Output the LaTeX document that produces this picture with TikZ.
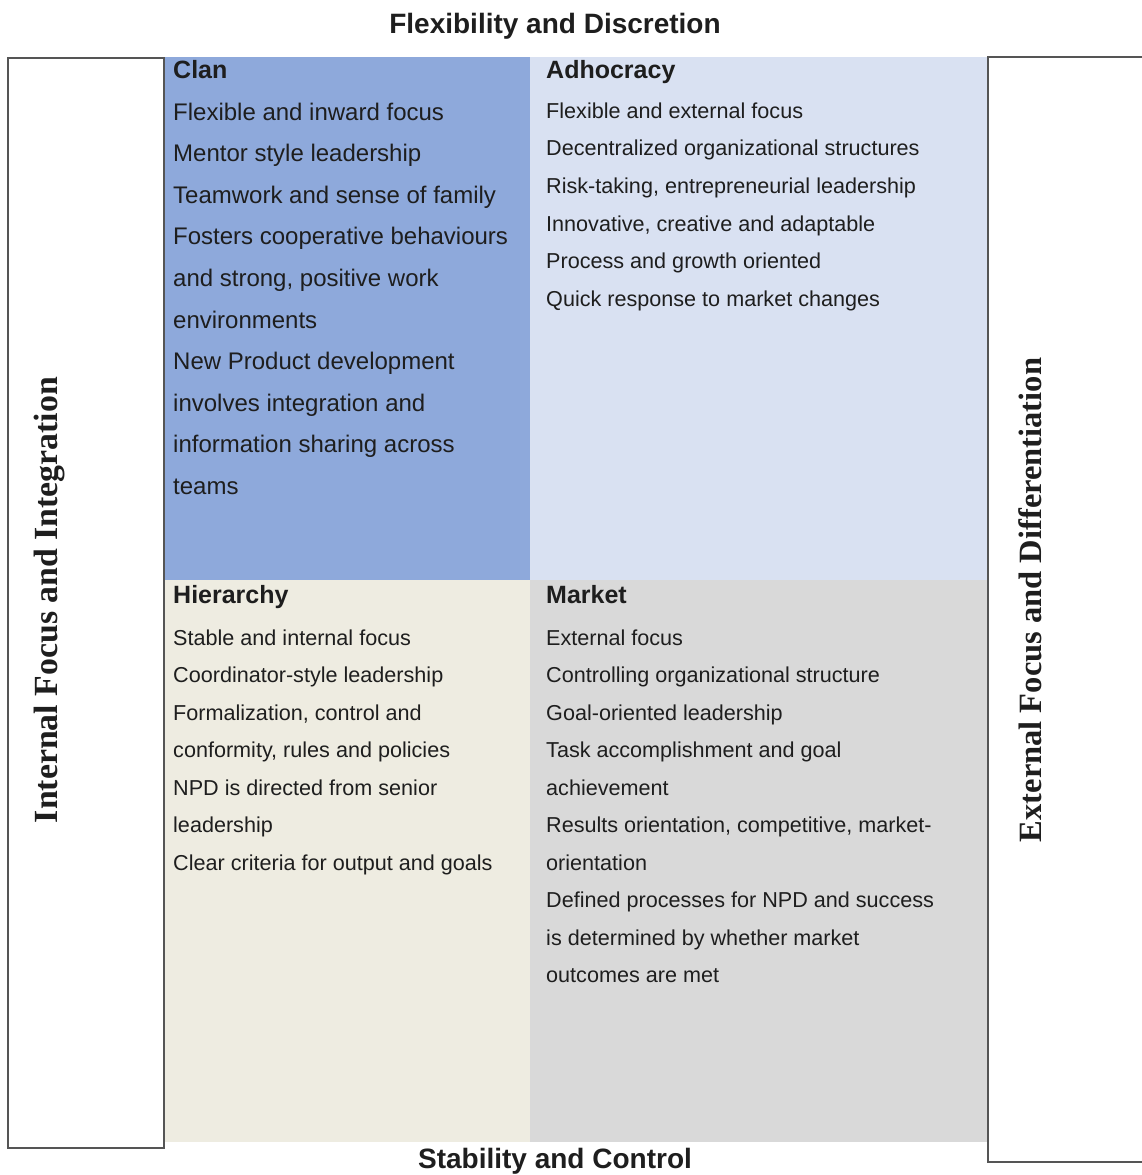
\documentclass[tikz,border=0pt]{standalone}
\usepackage{fontspec}
\setmainfont{Liberation Serif}
\setsansfont{Liberation Sans}
\usepackage{xcolor}
\definecolor{clanblue}{HTML}{8EA9DB}
\definecolor{adhocblue}{HTML}{D9E1F2}
\definecolor{hierbeige}{HTML}{EEECE1}
\definecolor{marketgray}{HTML}{D9D9D9}
\definecolor{edgegray}{HTML}{555555}
\definecolor{inkgray}{HTML}{1E1E1E}

\begin{document}
\begin{tikzpicture}[x=1pt,y=-1pt,
  quad/.style={inner sep=0,outer sep=0,anchor=north west},
  sidebox/.style={draw=edgegray,line width=2pt},
  head/.style={anchor=base west,inner sep=0,text=inkgray,font=\sffamily\bfseries\fontsize{25}{30}\selectfont},
  item/.style={anchor=base west,inner sep=0,text=inkgray,font=\sffamily\fontsize{21.6}{26}\selectfont},
  bigitem/.style={item,font=\sffamily\fontsize{24}{29}\selectfont},
  title/.style={anchor=base,inner sep=0,text=inkgray,font=\sffamily\bfseries\fontsize{28}{34}\selectfont},
  axis/.style={rotate=90,inner sep=0,text=inkgray,font=\bfseries\fontsize{32.5}{39}\selectfont}]
\useasboundingbox (0,0) rectangle (1141,1175);

% the four quadrants
\node[quad,fill=clanblue,minimum width=366pt,minimum height=523pt] (clan) at (164,57) {};
\node[quad,fill=adhocblue,minimum width=458pt,minimum height=523pt] (adhoc) at (530,57) {};
\node[quad,fill=hierbeige,minimum width=366pt,minimum height=562pt] (hier) at (164,580) {};
\node[quad,fill=marketgray,minimum width=458pt,minimum height=562pt] (market) at (530,580) {};

% side frames
\draw[sidebox] (8,58) rectangle (164,1148);
\draw[sidebox] (988,57) rectangle (1150,1162);
\node[axis,font=\bfseries\fontsize{33.8}{40}\selectfont] (internal) at (50,600) {Internal Focus and Integration};
\node[axis] (external) at (1030,600) {External Focus and Differentiation};

\node[title] (flex) at (555,33) {Flexibility and Discretion};
\node[title] (stab) at (555,1168) {Stability and Control};

% Clan
\node[head] (clan-h) at (173,78) {Clan};
\foreach \txt [count=\i] in {Flexible and inward focus, Mentor style leadership,
    Teamwork and sense of family, Fosters cooperative behaviours,
    {and strong, positive work}, environments, New Product development,
    involves integration and, information sharing across, teams}
  \node[bigitem] (clan-\i) at (173,{78.4+41.6*\i}) {\txt};

% Adhocracy
\node[head] (adhoc-h) at (546,78) {Adhocracy};
\foreach \txt [count=\i] in {Flexible and external focus, Decentralized organizational structures,
    {Risk-taking, entrepreneurial leadership}, {Innovative, creative and adaptable},
    Process and growth oriented, Quick response to market changes}
  \node[item] (adhoc-\i) at (546,{80.3+37.7*\i}) {\txt};

% Hierarchy
\node[head] (hier-h) at (173,603) {Hierarchy};
\foreach \txt [count=\i] in {Stable and internal focus, Coordinator-style leadership,
    {Formalization, control and}, {conformity, rules and policies},
    NPD is directed from senior, leadership, Clear criteria for output and goals}
  \node[item] (hier-\i) at (173,{607.5+37.5*\i}) {\txt};

% Market
\node[head] (market-h) at (546,603) {Market};
\foreach \txt [count=\i] in {External focus, Controlling organizational structure,
    Goal-oriented leadership, Task accomplishment and goal, achievement,
    {Results orientation, competitive, market-}, orientation,
    Defined processes for NPD and success, is determined by whether market,
    outcomes are met}
  \node[item] (market-\i) at (546,{607.5+37.5*\i}) {\txt};
\end{tikzpicture}
\end{document}
